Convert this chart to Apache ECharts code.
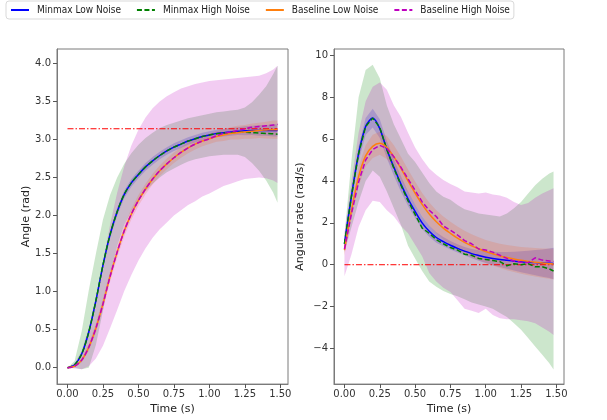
<!DOCTYPE html>
<html>
<head>
<meta charset="utf-8">
<script src="https://cdn.jsdelivr.net/npm/echarts@6/dist/echarts.min.js"></script>
<style>
	html, body { margin: 0; padding: 0; background: #fff; }
	#main { width: 607px; height: 420px; }
</style>
</head>
<body>
<div id="main"></div>
<script>
// time samples (s), shared by both panels
var times = [0, 0.05, 0.1, 0.15, 0.2, 0.25, 0.3, 0.35, 0.4, 0.45, 0.5, 0.55, 0.6, 0.65, 0.7, 0.75,
	0.8, 0.85, 0.9, 0.95, 1.0, 1.05, 1.1, 1.15, 1.2, 1.25, 1.3, 1.35, 1.4, 1.45, 1.48];

var seriesNames = ["Minmax Low Noise", "Minmax High Noise", "Baseline Low Noise", "Baseline High Noise"];

// ---- left panel: angle (rad)
var angMinmaxLow = [0, .04, .18, .47, .88, 1.35, 1.75, 2.05, 2.28, 2.43, 2.54, 2.64, 2.72, 2.79, 2.85, 2.9,
	2.94, 2.98, 3.01, 3.04, 3.06, 3.08, 3.09, 3.1, 3.11, 3.115, 3.12, 3.12, 3.12, 3.12, 3.12];
var angMinmaxLowHi = [0, .05, .21, .51, .93, 1.4, 1.8, 2.1, 2.33, 2.48, 2.59, 2.69, 2.77, 2.84, 2.9, 2.95,
	2.99, 3.03, 3.06, 3.09, 3.11, 3.13, 3.14, 3.15, 3.16, 3.175, 3.18, 3.19, 3.19, 3.2, 3.2];
var angMinmaxLowLo = [0, .03, .15, .43, .83, 1.3, 1.7, 2.0, 2.23, 2.38, 2.49, 2.59, 2.67, 2.74, 2.8, 2.85,
	2.89, 2.93, 2.96, 2.99, 3.01, 3.03, 3.04, 3.05, 3.06, 3.055, 3.06, 3.05, 3.05, 3.04, 3.04];

var angMinmaxHigh = [0, .04, .18, .47, .88, 1.35, 1.75, 2.05, 2.28, 2.43, 2.54, 2.64, 2.72, 2.79, 2.85, 2.9,
	2.94, 2.98, 3.01, 3.04, 3.06, 3.075, 3.085, 3.09, 3.095, 3.095, 3.09, 3.085, 3.08, 3.075, 3.07];
var angMinmaxHighHi = [0, .09, .48, 1.02, 1.5, 1.95, 2.27, 2.5, 2.68, 2.82, 2.93, 3.02, 3.09, 3.15, 3.19, 3.22,
	3.25, 3.28, 3.3, 3.32, 3.34, 3.36, 3.37, 3.38, 3.39, 3.42, 3.49, 3.59, 3.7, 3.86, 3.97];
var angMinmaxHighLo = [0, 0, -.02, 0, .3, .75, 1.23, 1.6, 1.88, 2.06, 2.2, 2.32, 2.42, 2.5, 2.57, 2.62,
	2.67, 2.71, 2.74, 2.76, 2.78, 2.79, 2.8, 2.8, 2.8, 2.77, 2.69, 2.59, 2.46, 2.3, 2.17];

var angBaseLow = [0, .02, .1, .27, .52, .84, 1.2, 1.52, 1.8, 2.02, 2.2, 2.35, 2.48, 2.59, 2.68, 2.76,
	2.83, 2.89, 2.94, 2.98, 3.01, 3.04, 3.06, 3.08, 3.09, 3.1, 3.11, 3.12, 3.125, 3.13, 3.13];
var angBaseLowHi = [0, .03, .13, .32, .58, .91, 1.27, 1.59, 1.87, 2.09, 2.27, 2.42, 2.55, 2.66, 2.75, 2.83,
	2.9, 2.96, 3.01, 3.05, 3.08, 3.11, 3.14, 3.16, 3.18, 3.19, 3.21, 3.22, 3.235, 3.25, 3.25];
var angBaseLowLo = [0, .01, .07, .22, .46, .77, 1.13, 1.45, 1.73, 1.95, 2.13, 2.28, 2.41, 2.52, 2.61, 2.69,
	2.76, 2.82, 2.87, 2.91, 2.94, 2.97, 2.98, 3.0, 3.0, 3.01, 3.01, 3.02, 3.015, 3.01, 3.01];

var angBaseHigh = [0, .02, .1, .27, .52, .84, 1.2, 1.52, 1.8, 2.02, 2.2, 2.35, 2.48, 2.59, 2.68, 2.76,
	2.83, 2.89, 2.94, 2.98, 3.01, 3.05, 3.08, 3.1, 3.12, 3.14, 3.16, 3.17, 3.18, 3.19, 3.2];
var angBaseHighHi = [0, .05, .22, .52, .92, 1.39, 1.88, 2.3, 2.65, 2.92, 3.13, 3.29, 3.41, 3.5, 3.57, 3.62,
	3.67, 3.7, 3.73, 3.75, 3.77, 3.78, 3.79, 3.8, 3.81, 3.82, 3.83, 3.84, 3.87, 3.92, 3.97];
var angBaseHighLo = [0, -.01, -.02, .02, .12, .29, .52, .76, 1.01, 1.22, 1.41, 1.57, 1.71, 1.82, 1.91, 2.0,
	2.07, 2.14, 2.19, 2.25, 2.29, 2.34, 2.39, 2.42, 2.45, 2.48, 2.49, 2.5, 2.49, 2.46, 2.43];

var angTarget = 3.1416;

// ---- right panel: angular rate (rad/s)
var rateMinmaxLow = [1.0, 3.3, 5.3, 6.6, 7.0, 6.5, 5.5, 4.65, 3.85, 3.15, 2.55, 2.0, 1.6, 1.3, 1.1, 0.93,
	0.78, 0.65, 0.53, 0.44, 0.36, 0.3, 0.25, 0.21, 0.17, 0.14, 0.12, 0.1, 0.08, 0.07, 0.06];
var rateMinmaxLowHi = [1.2, 3.6, 5.65, 7.0, 7.45, 6.95, 5.92, 5.05, 4.22, 3.5, 2.87, 2.3, 1.87, 1.55, 1.32, 1.13,
	0.98, 0.85, 0.75, 0.69, 0.64, 0.62, 0.61, 0.61, 0.62, 0.64, 0.67, 0.7, 0.73, 0.77, 0.81];
var rateMinmaxLowLo = [0.8, 3.0, 4.95, 6.2, 6.55, 6.05, 5.08, 4.25, 3.48, 2.8, 2.23, 1.7, 1.33, 1.05, 0.88, 0.73,
	0.58, 0.45, 0.31, 0.19, 0.08, -0.02, -0.11, -0.19, -0.28, -0.36, -0.43, -0.5, -0.57, -0.63, -0.69];

var rateMinmaxHigh = [1.0, 3.3, 5.3, 6.6, 7.0, 6.55, 5.5, 4.6, 3.8, 3.05, 2.4, 1.75, 1.5, 1.2, 1.0, 0.82,
	0.7, 0.5, 0.45, 0.3, 0.25, 0.2, 0.15, -0.05, 0.05, 0.0, 0.05, -0.1, -0.1, -0.2, -0.3];
var rateMinmaxHighHi = [1.4, 5.0, 8.0, 9.3, 9.55, 8.9, 7.6, 6.7, 6.0, 5.3, 4.9, 4.4, 3.9, 3.5, 3.25, 3.1,
	2.85, 2.65, 2.55, 2.45, 2.4, 2.35, 2.3, 2.45, 2.7, 3.0, 3.4, 3.8, 4.1, 4.35, 4.45];
var rateMinmaxHighLo = [0.6, 1.8, 3.0, 4.0, 4.5, 4.2, 3.5, 2.7, 1.9, 0.9, 0.3, -0.3, -0.8, -1.05, -1.25, -1.4,
	-1.5, -1.65, -1.8, -1.9, -2.0, -2.1, -2.3, -2.5, -2.8, -3.1, -3.5, -3.9, -4.3, -4.7, -5.0];

var rateBaseLow = [0.7, 2.6, 4.2, 5.2, 5.65, 5.8, 5.6, 5.15, 4.6, 4.0, 3.42, 2.88, 2.42, 2.05, 1.75, 1.5,
	1.27, 1.07, 0.9, 0.76, 0.63, 0.52, 0.42, 0.34, 0.27, 0.21, 0.16, 0.12, 0.08, 0.05, 0.03];
var rateBaseLowHi = [0.95, 2.95, 4.65, 5.7, 6.2, 6.35, 6.15, 5.7, 5.15, 4.55, 3.97, 3.43, 2.97, 2.6, 2.3, 2.05,
	1.82, 1.62, 1.45, 1.31, 1.18, 1.08, 1.0, 0.94, 0.89, 0.85, 0.82, 0.8, 0.78, 0.77, 0.77];
var rateBaseLowLo = [0.45, 2.25, 3.75, 4.7, 5.1, 5.25, 5.05, 4.6, 4.05, 3.45, 2.87, 2.33, 1.87, 1.5, 1.2, 0.95,
	0.72, 0.52, 0.35, 0.21, 0.08, -0.04, -0.16, -0.26, -0.35, -0.43, -0.5, -0.56, -0.62, -0.67, -0.71];

var rateBaseHigh = [0.75, 2.45, 3.95, 5.0, 5.5, 5.7, 5.55, 5.15, 4.65, 4.1, 3.55, 3.0, 2.6, 2.3, 1.85, 1.65,
	1.42, 1.15, 1.0, 0.75, 0.7, 0.6, 0.45, 0.3, 0.18, 0.12, 0.1, 0.33, 0.22, 0.18, 0.15];
var rateBaseHighHi = [1.5, 4.0, 6.3, 7.8, 8.5, 8.7, 8.35, 7.6, 7.05, 6.3, 5.6, 5.05, 4.6, 4.3, 4.05, 3.85,
	3.7, 3.5, 3.45, 3.4, 3.45, 3.35, 3.3, 3.2, 3.0, 2.85, 2.95, 3.2, 3.4, 3.55, 3.65];
var rateBaseHighLo = [-0.55, 0.5, 1.8, 2.6, 3.05, 3.0, 2.6, 2.3, 1.85, 1.5, 0.95, 0.4, -0.4, -0.8, -1.1, -1.3,
	-1.7, -2.1, -2.2, -2.3, -2.1, -2.4, -2.55, -2.6, -2.6, -2.65, -2.7, -2.8, -3.0, -3.2, -3.35];

var rateTarget = 0;

// tick labels
var timeTicks = [0, 0.25, 0.5, 0.75, 1.0, 1.25, 1.5];
var angTicks = [0, 0.5, 1.0, 1.5, 2.0, 2.5, 3.0, 3.5, 4.0];
var rateTicks = [-4, -2, 0, 2, 4, 6, 8, 10];

var colors = {
	minmaxLow: "#0000ff",
	minmaxHigh: "#008000",
	baseLow: "#ff7f0e",
	baseHigh: "#bf00bf",
	target: "#ff0000"
};

var FONT = "DejaVu Sans";
var AXIS_GREY = "#7a7a7a";
var TICK_GREY = "#555";

function pairs(ys) {
	var out = [];
	for (var i = 0; i < times.length; i++)
	{
		out.push([times[i], ys[i]]);
	}
	return out;
}

// fill_between style band drawn as one polygon through the axis scales
function band(gi, lo, hi, color) {
	return {
		type: "custom",
		xAxisIndex: gi,
		yAxisIndex: gi,
		silent: true,
		z: 1,
		data: times.map(function(t, i) { return [t, lo[i], hi[i]]; }),
		encode: { x: 0, y: [1, 2] },
		renderItem: function(params, api) {
			if (params.dataIndex !== 0)
				return;
			var pts = [], i;
			for (i = 0; i < times.length; i++)
				pts.push(api.coord([times[i], hi[i]]));
			for (i = times.length - 1; i >= 0; i--)
				pts.push(api.coord([times[i], lo[i]]));
			return {
				type: "polygon",
				shape: { points: pts },
				style: { fill: color, opacity: 0.2 }
			};
		}
	};
}

function curve(gi, name, ys, color, dashed, smooth) {
	return {
		type: "line",
		name: name,
		xAxisIndex: gi,
		yAxisIndex: gi,
		data: pairs(ys),
		symbol: "none",
		smooth: smooth ? 0.3 : false,
		z: 3,
		lineStyle: {
			color: color,
			width: 1.5,
			type: dashed ? [5, 2.5] : "solid"
		},
		itemStyle: { color: color }
	};
}

function targetLine(gi, y) {
	return {
		type: "line",
		xAxisIndex: gi,
		yAxisIndex: gi,
		data: [[times[0], y], [times[times.length - 1], y]],
		symbol: "none",
		silent: true,
		z: 2,
		lineStyle: { color: colors.target, width: 1, type: [6, 2, 1.5, 2] }
	};
}

function xAxisOpt(gi) {
	return {
		type: "value",
		gridIndex: gi,
		min: -0.074,
		max: 1.554,
		name: "Time (s)",
		nameLocation: "middle",
		nameGap: 17,
		nameTextStyle: { fontFamily: FONT, fontSize: 11, color: "#222" },
		axisLine: { show: true, onZero: false, lineStyle: { color: AXIS_GREY, width: 1 } },
		splitLine: { show: false },
		axisTick: { show: true, length: 4, customValues: timeTicks, lineStyle: { color: TICK_GREY, width: 1 } },
		axisLabel: {
			customValues: timeTicks,
			margin: 5,
			fontFamily: FONT,
			fontSize: 10,
			color: "#333",
			formatter: function(v) { return v.toFixed(2); }
		}
	};
}

function yAxisOpt(gi, name, min, max, ticks, gap, fmt) {
	return {
		type: "value",
		gridIndex: gi,
		min: min,
		max: max,
		name: name,
		nameLocation: "middle",
		nameGap: gap,
		nameTextStyle: { fontFamily: FONT, fontSize: 11, color: "#222" },
		axisLine: { show: true, onZero: false, lineStyle: { color: AXIS_GREY, width: 1 } },
		splitLine: { show: false },
		axisTick: { show: true, length: 4, customValues: ticks, lineStyle: { color: TICK_GREY, width: 1 } },
		axisLabel: {
			customValues: ticks,
			margin: 6,
			fontFamily: FONT,
			fontSize: 10,
			color: "#333",
			formatter: fmt
		}
	};
}

var chart = echarts.init(document.getElementById("main"), null, { renderer: "canvas" });

var opt = {
	animation: false,
	backgroundColor: "#fff",
	legend: {
		data: seriesNames,
		left: 6,
		top: 1,
		padding: [4, 4],
		itemGap: 15,
		itemWidth: 18,
		itemHeight: 10,
		borderColor: "#d9d9d9",
		borderWidth: 1,
		borderRadius: 3,
		itemStyle: { opacity: 0 },
		textStyle: { fontFamily: "DejaVu Sans Condensed, DejaVu Sans", fontSize: 10, color: "#222", padding: [0, 0, 0, 3] }
	},
	grid: [
		{ left: 57, top: 49, width: 231, height: 336, show: true, borderColor: AXIS_GREY, borderWidth: 1, backgroundColor: "transparent" },
		{ left: 334, top: 49, width: 230, height: 336, show: true, borderColor: AXIS_GREY, borderWidth: 1, backgroundColor: "transparent" }
	],
	xAxis: [xAxisOpt(0), xAxisOpt(1)],
	yAxis: [
		yAxisOpt(0, "Angle (rad)", -0.215, 4.19, angTicks, 19, function(v) { return v.toFixed(1); }),
		yAxisOpt(1, "Angular rate (rad/s)", -5.7, 10.3, rateTicks, 28, function(v) {
			return v < 0 ? "\u2212" + Math.abs(v) : String(v);
		})
	],
	series: [
		band(0, angMinmaxLowLo, angMinmaxLowHi, colors.minmaxLow),
		band(0, angMinmaxHighLo, angMinmaxHighHi, colors.minmaxHigh),
		band(0, angBaseLowLo, angBaseLowHi, colors.baseLow),
		band(0, angBaseHighLo, angBaseHighHi, colors.baseHigh),
		targetLine(0, angTarget),
		curve(0, seriesNames[0], angMinmaxLow, colors.minmaxLow, false, true),
		curve(0, seriesNames[1], angMinmaxHigh, colors.minmaxHigh, true, true),
		curve(0, seriesNames[2], angBaseLow, colors.baseLow, false, true),
		curve(0, seriesNames[3], angBaseHigh, colors.baseHigh, true, true),

		band(1, rateMinmaxLowLo, rateMinmaxLowHi, colors.minmaxLow),
		band(1, rateMinmaxHighLo, rateMinmaxHighHi, colors.minmaxHigh),
		band(1, rateBaseLowLo, rateBaseLowHi, colors.baseLow),
		band(1, rateBaseHighLo, rateBaseHighHi, colors.baseHigh),
		targetLine(1, rateTarget),
		curve(1, seriesNames[0], rateMinmaxLow, colors.minmaxLow, false, true),
		curve(1, seriesNames[1], rateMinmaxHigh, colors.minmaxHigh, true, false),
		curve(1, seriesNames[2], rateBaseLow, colors.baseLow, false, true),
		curve(1, seriesNames[3], rateBaseHigh, colors.baseHigh, true, false)
	]
};

chart.setOption(opt);
</script>
</body>
</html>
